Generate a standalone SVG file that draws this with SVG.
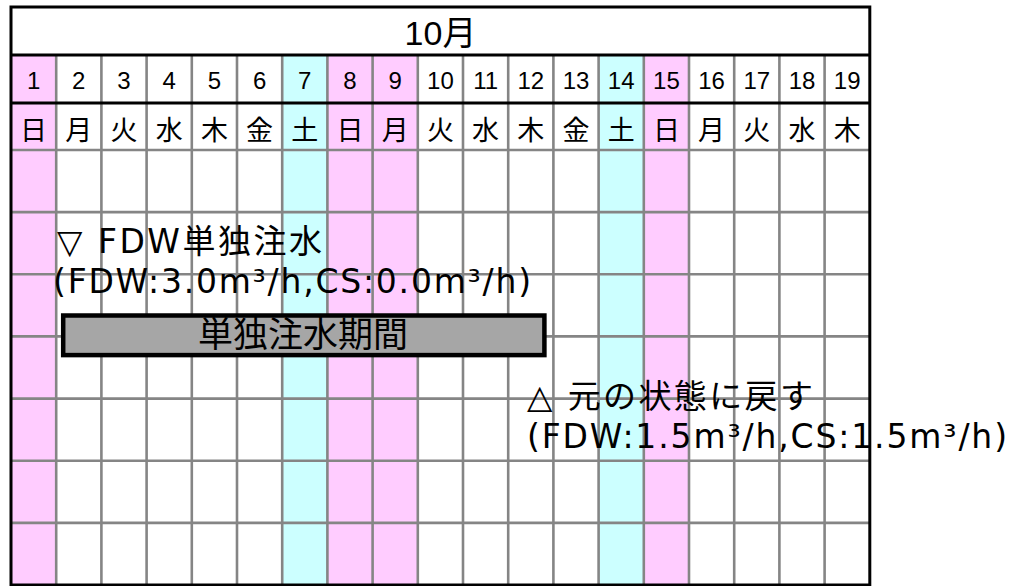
<svg xmlns="http://www.w3.org/2000/svg" width="1013" height="586" viewBox="0 0 1013 586">
<style>
.pk{fill:#ffccff}
.cy{fill:#ccffff}
.gl{stroke:#858585;stroke-width:2.6;fill:none}
.tk{stroke:#000;stroke-width:3;fill:none}
.dt{font-family:"Liberation Sans","Noto Sans CJK JP",sans-serif;font-size:24px;fill:#000;text-anchor:middle}
.wd{font-family:"Noto Sans CJK JP",sans-serif;font-size:27px;fill:#000;text-anchor:middle}
.an{font-family:"DejaVu Sans","Noto Sans CJK JP",sans-serif;font-size:33px;fill:#000}
</style>
<rect width="1013" height="586" fill="#fff"/>
<g id="columns">
<rect class="pk" x="11" y="55" width="45.2" height="530"/>
<rect class="cy" x="282.2" y="55" width="45.2" height="530"/>
<rect class="pk" x="327.4" y="55" width="90.4" height="530"/>
<rect class="cy" x="598.6" y="55" width="45.2" height="530"/>
<rect class="pk" x="643.8" y="55" width="45.2" height="530"/>
</g>
<g id="grid" class="gl">
<path d="M56.2 55V585M101.4 55V585M146.6 55V585M191.8 55V585M237 55V585M282.2 55V585M327.4 55V585M372.6 55V585M417.8 55V585M463 55V585M508.2 55V585M553.4 55V585M598.6 55V585M643.8 55V585M689 55V585M734.2 55V585M779.4 55V585M824.6 55V585"/>
<path d="M11 150H870M11 212.1H870M11 274.3H870M11 336.4H870M11 398.6H870M11 460.7H870M11 522.9H870"/>
</g>
<g id="frame" class="tk">
<rect x="11" y="7" width="858.8" height="578"/>
<path d="M11 55H870M11 103H870"/>
</g>
<g id="header">
<text x="440.5" y="45" font-family="Liberation Sans, Noto Sans CJK JP, sans-serif" font-size="34" text-anchor="middle">10月</text>
</g>
<g id="dates" class="dt">
<text x="33.6" y="89">1</text><text x="78.8" y="89">2</text><text x="124" y="89">3</text><text x="169.2" y="89">4</text><text x="214.4" y="89">5</text><text x="259.6" y="89">6</text><text x="304.8" y="89">7</text><text x="350" y="89">8</text><text x="395.2" y="89">9</text><text x="440.4" y="89">10</text><text x="485.6" y="89">11</text><text x="530.8" y="89">12</text><text x="576" y="89">13</text><text x="621.2" y="89">14</text><text x="666.4" y="89">15</text><text x="711.6" y="89">16</text><text x="756.8" y="89">17</text><text x="802" y="89">18</text><text x="847.2" y="89">19</text>
</g>
<g id="weekdays" class="wd">
<text x="33.6" y="140">日</text><text x="78.8" y="140">月</text><text x="124" y="140">火</text><text x="169.2" y="140">水</text><text x="214.4" y="140">木</text><text x="259.6" y="140">金</text><text x="304.8" y="140">土</text><text x="350" y="140">日</text><text x="395.2" y="140">月</text><text x="440.4" y="140">火</text><text x="485.6" y="140">水</text><text x="530.8" y="140">木</text><text x="576" y="140">金</text><text x="621.2" y="140">土</text><text x="666.4" y="140">日</text><text x="711.6" y="140">月</text><text x="756.8" y="140">火</text><text x="802" y="140">水</text><text x="847.2" y="140">木</text>
</g>
<g id="note-start" class="an">
<text x="57" y="253" textLength="265" lengthAdjust="spacing">▽ FDW単独注水</text>
<text x="53" y="293" textLength="478" lengthAdjust="spacing">(FDW:3.0m³/h,CS:0.0m³/h)</text>
</g>
<g id="period-bar">
<rect x="63.2" y="315.5" width="481.2" height="39.6" fill="#a6a6a6" stroke="#000" stroke-width="4.5"/>
<text x="303" y="347" font-family="Noto Sans CJK JP, sans-serif" font-size="35" text-anchor="middle">単独注水期間</text>
</g>
<g id="note-end" class="an">
<text x="527" y="408" textLength="286" lengthAdjust="spacing">△ 元の状態に戻す</text>
<text x="527" y="448" textLength="480" lengthAdjust="spacing">(FDW:1.5m³/h,CS:1.5m³/h)</text>
</g>
</svg>
